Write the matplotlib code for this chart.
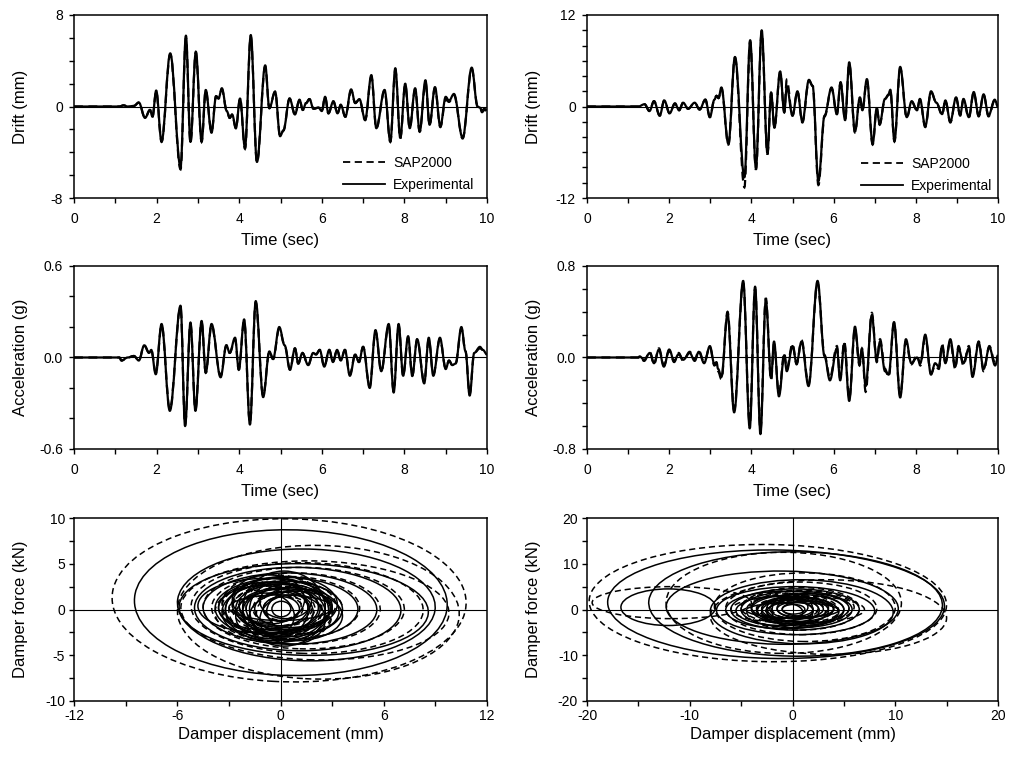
import matplotlib
matplotlib.use("Agg")
import matplotlib.pyplot as plt
from matplotlib.patches import Ellipse, PathPatch
from matplotlib.path import Path
from matplotlib.ticker import MultipleLocator, FormatStrFormatter
from matplotlib.lines import Line2D

plt.rcParams['font.family'] = ['Liberation Sans', 'DejaVu Sans']
plt.rcParams['axes.unicode_minus'] = False

# ---------------- data: drift, left ----------------
drift_l_t = [0, 1.1, 1.2, 1.3, 1.45, 1.57, 1.72, 1.84, 1.9, 1.99, 2.12, 2.33, 2.58, 2.71, 2.82,
             2.95, 3.09, 3.19, 3.33, 3.44, 3.5, 3.58, 3.7, 3.77, 3.83, 3.92, 4.02, 4.14, 4.28,
             4.43, 4.63, 4.73, 4.87, 4.99, 5.07, 5.22, 5.35, 5.46, 5.54, 5.62, 5.7, 5.8, 5.92,
             6.0, 6.08, 6.16, 6.28, 6.38, 6.46, 6.57, 6.71, 6.81, 6.91, 7.05, 7.2, 7.32, 7.52,
             7.66, 7.78, 7.9, 8.02, 8.13, 8.26, 8.37, 8.51, 8.61, 8.74, 8.87, 9.0, 9.08, 9.2,
             9.41, 9.63, 9.77, 9.83, 9.88, 9.93, 10.0]
drift_l_exp = [0, 0, 0.1, 0.0, 0.05, 0.35, -1.0, -0.3, -0.9, 1.4, -3.05, 4.65, -5.3, 6.2, -3.1,
               4.8, -3.05, 1.45, -2.3, 0.9, 0.7, 1.6, -0.4, -1.0, -0.7, -1.9, 0.7, -3.6, 6.25,
               -4.85, 3.6, -0.15, 1.3, -2.6, -2.1, 0.7, -0.7, 0.6, -0.3, 0.3, 0.65, -0.2, -0.1,
               -0.4, 0.85, -0.6, 0.45, -0.6, 0.15, -0.9, 1.5, 0.3, 0.65, -1.15, 2.75, -1.9, 1.45,
               -3.05, 3.35, -2.75, 2.0, -1.9, 1.6, -2.2, 2.3, -1.6, 1.7, -1.75, 0.85, 0.5, 1.1,
               -2.75, 3.4, 0.0, -0.1, -0.4, -0.2, -0.3]
drift_l_sap = [0, 0, 0.1, 0.0, 0.05, 0.35, -1.0, -0.3, -0.9, 1.3, -3.1, 4.55, -5.5, 6.0, -3.2,
               4.7, -3.1, 1.4, -2.2, 0.9, 0.7, 1.5, -0.4, -1.0, -0.7, -1.9, 0.7, -3.7, 6.1,
               -4.9, 3.5, -0.15, 1.3, -2.6, -2.1, 0.7, -0.7, 0.6, -0.3, 0.3, 0.65, -0.2, -0.1,
               -0.4, 0.85, -0.6, 0.45, -0.6, 0.15, -0.9, 1.4, 0.3, 0.6, -1.2, 2.6, -1.9, 1.4,
               -3.1, 3.2, -2.8, 1.9, -1.9, 1.5, -2.2, 2.1, -1.6, 1.6, -1.8, 0.6, 0.4, 1.0,
               -2.8, 3.3, 0.1, -0.1, -0.5, -0.3, -0.4]

# ---------------- data: drift, right ----------------
drift_r_t = [0, 1.25, 1.4, 1.52, 1.63, 1.77, 1.88, 2.01, 2.14, 2.24, 2.34, 2.46, 2.62, 2.74,
             2.88, 2.99, 3.1, 3.15, 3.2, 3.27, 3.44, 3.6, 3.83, 3.97, 4.11, 4.25, 4.39, 4.48,
             4.56, 4.7, 4.8, 4.86, 5.0, 5.12, 5.24, 5.4, 5.49, 5.63, 5.78, 5.95, 6.08, 6.17,
             6.28, 6.38, 6.52, 6.64, 6.7, 6.81, 6.95, 7.05, 7.12, 7.25, 7.34, 7.38, 7.48,
             7.62, 7.78, 7.9, 8.03, 8.1, 8.23, 8.37, 8.5, 8.64, 8.72, 8.84, 8.98, 9.08, 9.16,
             9.29, 9.41, 9.53, 9.65, 9.77, 9.92, 10.0]
drift_r_exp = [0, 0, 0.3, -0.6, 0.7, -1.2, 0.8, -0.9, 0.4, -0.5, 0.5, -0.3, 0.5, -0.4,
               0.9, -1.4, 0.9, 1.4, 1.1, 2.5, -4.9, 6.5, -9.3, 8.7, -8.1, 10.0, -6.1, 1.8,
               -2.8, 4.6, -0.8, 2.6, -1.2, 2.0, -2.0, 3.5, 2.7, -9.8, -1.2, 2.5, -1.0, 3.2,
               -1.8, 5.8, -3.3, 1.2, -0.5, 3.6, -4.9, -0.2, -2.3, 1.0, 1.6, 2.2, -4.5,
               5.2, -1.4, 0.7, -0.5, 1.0, -2.6, 2.0, 0.5, -1.0, 0.8, -2.0, 1.2, -1.1, 1.0,
               -1.4, 1.9, -1.2, 1.6, -1.2, 0.9, 0.0]
drift_r_sap = [0, 0, 0.3, -0.6, 0.7, -1.2, 0.8, -0.9, 0.4, -0.5, 0.5, -0.3, 0.5, -0.4,
               0.9, -1.4, 0.9, 1.4, 1.1, 2.4, -5.0, 6.4, -10.6, 8.5, -8.3, 9.7, -6.3, 1.8,
               -2.7, 4.5, -0.7, 3.5, -1.2, 2.0, -2.1, 3.4, 2.7, -10.3, -1.3, 2.4, -1.0, 3.1,
               -1.8, 5.6, -3.4, 1.1, -0.5, 3.4, -5.0, -0.3, -2.4, 1.0, 1.5, 2.1, -4.6,
               5.0, -1.5, 0.6, -0.5, 0.9, -2.7, 1.9, 0.5, -1.1, 0.8, -2.1, 1.1, -1.2, 0.9,
               -1.5, 1.8, -1.3, 1.5, -1.3, 0.8, 0.0]

# ---------------- data: acceleration, left ----------------
acc_l_t = [0, 1.1, 1.15, 1.3, 1.45, 1.57, 1.7, 1.82, 1.87, 1.98, 2.12, 2.32, 2.58, 2.69, 2.82,
           2.94, 3.09, 3.19, 3.33, 3.55, 3.69, 3.77, 3.9, 3.99, 4.12, 4.26, 4.4, 4.58, 4.73,
           4.82, 4.97, 5.1, 5.23, 5.35, 5.43, 5.53, 5.67, 5.79, 5.86, 5.95, 6.06, 6.18, 6.27,
           6.37, 6.46, 6.56, 6.68, 6.81, 6.9, 7.0, 7.16, 7.3, 7.44, 7.62, 7.74, 7.86, 7.97,
           8.09, 8.19, 8.31, 8.48, 8.59, 8.7, 8.86, 9.0, 9.08, 9.16, 9.24, 9.38, 9.48, 9.58,
           9.69, 9.83, 9.9, 10.0]
acc_l_exp = [0, 0, -0.02, 0.0, 0.01, -0.02, 0.08, 0.03, 0.05, -0.11, 0.22, -0.35, 0.34, -0.45, 0.23,
             -0.35, 0.24, -0.1, 0.22, -0.13, 0.08, 0.03, 0.13, -0.08, 0.25, -0.44, 0.37, -0.26, 0.04,
             -0.01, 0.2, 0.08, -0.08, 0.06, -0.04, 0.03, -0.05, 0.03, 0.02, 0.05, -0.06, 0.05, -0.03,
             0.05, -0.02, 0.05, -0.12, 0.02, -0.03, 0.07, -0.2, 0.18, -0.09, 0.22, -0.23, 0.22, -0.12,
             0.14, -0.12, 0.12, -0.17, 0.13, -0.12, 0.13, -0.076, -0.02, -0.05, -0.04, 0.2, 0.04, -0.25,
             0.03, 0.07, 0.05, 0.02]
acc_l_sap = [0, 0, -0.02, 0.0, 0.01, -0.02, 0.08, 0.03, 0.05, -0.1, 0.21, -0.34, 0.33, -0.44, 0.22,
             -0.34, 0.23, -0.1, 0.21, -0.12, 0.08, 0.03, 0.12, -0.08, 0.24, -0.43, 0.36, -0.25, 0.04,
             -0.01, 0.19, 0.08, -0.08, 0.06, -0.04, 0.03, -0.05, 0.03, 0.02, 0.05, -0.06, 0.05, -0.03,
             0.05, -0.02, 0.05, -0.11, 0.02, -0.03, 0.07, -0.19, 0.17, -0.09, 0.21, -0.22, 0.21, -0.12,
             0.13, -0.12, 0.12, -0.16, 0.12, -0.11, 0.12, -0.07, -0.02, -0.05, -0.04, 0.19, 0.04, -0.24,
             0.03, 0.06, 0.05, 0.02]

# ---------------- data: acceleration, right ----------------
acc_r_t = [0, 1.25, 1.28, 1.39, 1.53, 1.63, 1.75, 1.87, 2.0, 2.12, 2.23, 2.34, 2.5, 2.62, 2.72,
           2.85, 2.99, 3.1, 3.15, 3.19, 3.27, 3.42, 3.58, 3.8, 3.96, 4.09, 4.22, 4.35, 4.48,
           4.55, 4.67, 4.8, 4.86, 5.0, 5.1, 5.22, 5.39, 5.61, 5.78, 5.91, 6.08, 6.16, 6.26,
           6.38, 6.52, 6.63, 6.69, 6.78, 6.93, 7.05, 7.13, 7.25, 7.34, 7.47, 7.62, 7.76, 7.89,
           8.03, 8.11, 8.23, 8.37, 8.47, 8.56, 8.64, 8.72, 8.84, 8.96, 9.04, 9.16, 9.29, 9.38,
           9.53, 9.65, 9.79, 9.93, 10.0]
acc_r_exp = [0, 0, 0.01, -0.02, 0.04, -0.05, 0.07, -0.08, 0.07, -0.03, 0.03, -0.02, 0.04, -0.03, 0.05,
             -0.05, 0.1, -0.06, -0.04, -0.1, -0.17, 0.38, -0.48, 0.67, -0.62, 0.62, -0.67, 0.5, -0.18,
             0.14, -0.34, 0.02, -0.12, 0.1, -0.05, 0.14, -0.25, 0.67, 0.01, -0.2, 0.08, -0.2, 0.12,
             -0.38, 0.27, -0.05, 0.07, -0.25, 0.37, -0.02, 0.14, -0.12, -0.15, 0.31, -0.35, 0.16, -0.05,
             0.0, -0.05, 0.2, -0.15, -0.05, -0.08, 0.1, -0.05, 0.16, -0.08, 0.08, -0.05, 0.08, -0.17,
             0.13, -0.1, 0.09, -0.07, 0.0]
acc_r_sap = [0, 0, 0.01, -0.03, 0.05, -0.06, 0.08, -0.07, 0.06, -0.04, 0.04, -0.03, 0.05, -0.02, 0.06,
             -0.04, 0.09, -0.07, -0.05, -0.12, -0.19, 0.4, -0.46, 0.65, -0.58, 0.6, -0.64, 0.52, -0.2,
             0.12, -0.32, 0.04, -0.1, 0.12, -0.06, 0.15, -0.23, 0.65, 0.02, -0.18, 0.1, -0.18, 0.14,
             -0.36, 0.25, -0.07, 0.08, -0.3, 0.39, -0.04, 0.16, -0.1, -0.17, 0.3, -0.33, 0.14, -0.06,
             0.02, -0.07, 0.18, -0.14, -0.07, -0.1, 0.12, -0.04, 0.14, -0.1, 0.1, -0.07, 0.1, -0.15,
             0.14, -0.12, 0.1, -0.05, 0.02]

# ---------------- data: damper hysteresis cycles (extents of each cycle) ----------------
# left: displacement (mm) / force (kN)
hl_sap_xmin = [-9.8, -6.0, -5.8, -5.2, -4.5, -4.0, -3.4, -2.8, -2.2, -1.6, -1.0, -3.0, -2.4, -3.8,
               -2.0, -2.6, -3.4, -1.4, -2.8]
hl_sap_xmax = [10.8, 10.4, 9.8, 8.3, 7.2, 5.8, 4.6, 3.6, 2.8, 2.0, 1.3, 2.4, 3.2, 3.0,
               2.4, 1.8, 2.6, 3.0, 1.2]
hl_sap_ymin = [-7.9, -7.6, -5.5, -4.8, -4.3, -3.8, -3.2, -2.8, -2.3, -1.8, -1.2, -3.0, -2.2, -3.6,
               -3.0, -1.8, -2.6, -3.4, -1.4]
hl_sap_ymax = [9.9, 7.0, 5.3, 5.1, 4.6, 4.0, 3.6, 3.0, 2.5, 2.0, 1.4, 2.6, 3.2, 3.0,
               3.6, 1.6, 3.8, 2.4, 2.2]
hl_sap_tilt = [-6, -6, -4, -4, -3, -3, -2, 0, 0, 0, 0, 0, 0, 0, 0, 0, 0, 0, 0]
hl_exp_xmin = [-8.5, -6.0, -5.9, -5.0, -4.5, -3.8, -3.2, -2.6, -2.0, -1.5, -1.0, -0.5, -3.4, -2.8,
               -2.2, -3.6, -1.8, -2.8, -1.2, -3.0, -2.2, -4.8, -3.2, -2.4, -1.8, -3.6, -0.8,
               -2.6, -1.2]
hl_exp_xmax = [9.7, 9.0, 8.6, 7.0, 5.6, 4.5, 3.6, 2.9, 2.3, 1.7, 1.1, 0.6, 2.6, 3.3,
               1.9, 2.2, 3.6, 1.4, 2.6, 3.0, 2.6, 3.0, 2.8, 3.0, 1.6, 1.6, 3.4,
               0.8, 1.8]
hl_exp_ymin = [-7.2, -5.6, -5.0, -4.5, -3.8, -3.3, -3.0, -2.6, -2.2, -1.8, -1.3, -0.8, -3.4, -2.4,
               -2.8, -2.6, -3.4, -1.6, -3.8, -1.2, -4.0, -2.6, -3.6, -2.0, -3.0, -2.2, -2.6,
               -3.2, -1.0]
hl_exp_ymax = [8.7, 6.6, 5.0, 4.6, 4.0, 3.5, 3.1, 2.8, 2.3, 1.9, 1.4, 0.9, 2.8, 3.6,
               2.2, 3.0, 2.0, 3.8, 1.6, 1.6, 4.2, 3.4, 3.4, 2.4, 3.0, 2.6, 2.2,
               1.8, 2.8]
hl_exp_tilt = [-6, -5, -4, -3, -3, -2, -1, 0, 0, 0, 0, 0, 0, 0, 0, 0, 0, 0, 0, 0, 0, 0,
               0, 0, 0, 0, 0, 0, 0]

# right
hr_sap_xmin = [-19.8, -19.5, -12.3, -8.0, -7.6, -6.5, -5.0, -4.0, -3.0, -2.0, -2.6, -4.5, -3.5, -6.0,
               -5.0, -2.5]
hr_sap_xmax = [15.0, -4.0, 10.6, 15.0, 10.0, 8.2, 6.5, 5.5, 4.0, 2.5, 3.2, 4.5, 2.5, 7.0,
               6.0, 4.5]
hr_sap_ymin = [-11.4, -2.0, -9.6, -9.8, -7.0, -5.5, -4.5, -3.5, -2.8, -2.0, -3.2, -4.0, -2.0, -3.0,
               -3.2, -2.8]
hr_sap_ymax = [14.2, 5.0, 12.5, 6.5, 8.0, 6.0, 4.8, 4.0, 3.0, 2.2, 2.4, 3.5, 2.5, 3.0,
               4.2, 2.0]
hr_sap_tilt = [-3, 0, -3, -2, -2, -1, 0, 0, 0, 0, 0, 0, 0, 0, 0, 0]
hr_exp_xmin = [-18.0, -16.7, -14.0, -12.3, -8.0, -7.4, -6.0, -5.0, -4.0, -3.0, -2.2, -1.5, -1.0, -3.4,
               -5.5, -2.5, -3.5, -1.5, -4.5, -2.0, -6.5, -3.0, -4.0, -1.0, -2.5]
hr_exp_xmax = [14.8, -7.5, 14.6, 10.3, 9.8, 8.0, 6.5, 5.8, 5.0, 4.0, 3.0, 2.0, 1.2, 2.6,
               3.5, 5.5, 2.0, 3.5, 4.5, 2.0, 5.0, 4.5, 1.5, 4.0, 1.0]
hr_exp_ymin = [-10.7, -3.5, -10.2, -7.6, -7.5, -5.5, -4.5, -4.0, -3.2, -2.6, -2.0, -1.5, -1.0, -3.0,
               -3.5, -3.0, -2.5, -2.0, -1.8, -4.0, -4.2, -3.6, -2.0, -1.6, -2.6]
hr_exp_ymax = [13.0, 4.5, 12.6, 8.4, 6.5, 5.0, 4.5, 4.0, 3.3, 2.8, 2.2, 1.6, 1.1, 2.6,
               3.0, 3.5, 2.0, 2.6, 1.5, 3.5, 4.0, 2.6, 3.0, 1.8, 1.4]
hr_exp_tilt = [-3, 0, -3, -2, -2, -1, 0, 0, 0, 0, 0, 0, 0, 0, 0, 0, 0, 0, 0, 0,
               0, 0, 0, 0, 0]

# ---------------- figure ----------------
fig = plt.figure(figsize=(10.09, 7.59), dpi=100)
W, H = 1009.0, 759.0
cols = [(74, 413), (587, 411)]
rows = [(15, 198), (266, 449), (518, 701)]

def make_ax(col, row):
    x0, w = cols[col]
    t, b = rows[row]
    return fig.add_axes([x0 / W, 1 - b / H, w / W, (b - t) / H])

DASH = (0, (4, 2.5))
LW = 1.6
TICK_FS = 10
LAB_FS = 12

def style(ax, xmaj, xmin_, ymaj, ymin_, yfmt=None, xpad=6.5, ypad=4.7):
    ax.xaxis.set_major_locator(MultipleLocator(xmaj))
    ax.xaxis.set_minor_locator(MultipleLocator(xmin_))
    ax.yaxis.set_major_locator(MultipleLocator(ymaj))
    ax.yaxis.set_minor_locator(MultipleLocator(ymin_))
    if yfmt:
        ax.yaxis.set_major_formatter(FormatStrFormatter(yfmt))
    ax.tick_params(which='both', direction='out', length=3.3, width=1.0,
                   top=False, right=False, labelsize=TICK_FS)
    ax.tick_params(axis='x', which='major', pad=xpad)
    ax.tick_params(axis='y', which='major', pad=ypad)
    for s in ax.spines.values():
        s.set_linewidth(1.1)

def wave_path(t, v):
    # smooth rendering between successive read-off extrema (horizontal tangent at each)
    verts = [(t[0], v[0])]
    codes = [Path.MOVETO]
    for i in range(len(t) - 1):
        dt = t[i + 1] - t[i]
        verts += [(t[i] + 0.36 * dt, v[i]), (t[i + 1] - 0.36 * dt, v[i + 1]), (t[i + 1], v[i + 1])]
        codes += [Path.CURVE4] * 3
    return Path(verts, codes)

def time_panel(col, row, t, exp, sap, ylim, ymaj, ymin_, ylabel, yfmt=None, legend=None):
    ax = make_ax(col, row)
    ax.axhline(0, color='black', lw=0.8, zorder=1)
    ax.add_patch(PathPatch(wave_path(t, sap), fill=False, edgecolor='black', lw=LW,
                           linestyle=DASH, zorder=2))
    ax.add_patch(PathPatch(wave_path(t, exp), fill=False, edgecolor='black', lw=LW,
                           zorder=3, joinstyle='round'))
    ax.set_xlim(0, 10)
    ax.set_ylim(-ylim, ylim)
    style(ax, 2, 1, ymaj, ymin_, yfmt)
    ax.set_xlabel('Time (sec)', fontsize=LAB_FS)
    ax.set_ylabel(ylabel, fontsize=LAB_FS)
    ax.xaxis.set_label_coords(0.5, -0.19)
    ax.yaxis.set_label_coords(-0.112, 0.5)
    if legend:
        handles = [Line2D([], [], color='black', lw=1.3, linestyle=DASH),
                   Line2D([], [], color='black', lw=1.3)]
        ax.legend(handles, ['SAP2000', 'Experimental'], loc='upper left',
                  bbox_to_anchor=legend, frameon=False, borderpad=0, borderaxespad=0,
                  handlelength=3.0, handletextpad=0.6, labelspacing=0.55, fontsize=TICK_FS)
    return ax

def loop_panel(col, row, sap, exp, xlim, xmaj, xmin_, ylim, ymaj, ymin_):
    ax = make_ax(col, row)
    ax.axhline(0, color='black', lw=0.8, zorder=1)
    ax.axvline(0, color='black', lw=0.8, zorder=1)
    for (x0s, x1s, y0s, y1s, tilts), ls in ((sap, DASH), (exp, '-')):
        for x0, x1, y0, y1, tl in zip(x0s, x1s, y0s, y1s, tilts):
            e = Ellipse(((x0 + x1) / 2, (y0 + y1) / 2), x1 - x0, y1 - y0, angle=tl,
                        fill=False, edgecolor='black', lw=1.1, linestyle=ls, zorder=2)
            ax.add_patch(e)
    ax.set_xlim(-xlim, xlim)
    ax.set_ylim(-ylim, ylim)
    style(ax, xmaj, xmin_, ymaj, ymin_, xpad=2.2, ypad=3.2)
    ax.set_xlabel('Damper displacement (mm)', fontsize=LAB_FS)
    ax.set_ylabel('Damper force (kN)', fontsize=LAB_FS)
    ax.xaxis.set_label_coords(0.5, -0.14)
    ax.yaxis.set_label_coords(-0.112, 0.5)
    return ax

time_panel(0, 0, drift_l_t, drift_l_exp, drift_l_sap, 8, 8, 2, 'Drift (mm)',
           legend=(0.651, 0.2295))
time_panel(1, 0, drift_r_t, drift_r_exp, drift_r_sap, 12, 12, 2, 'Drift (mm)',
           legend=(0.667, 0.224))
time_panel(0, 1, acc_l_t, acc_l_exp, acc_l_sap, 0.6, 0.6, 0.2, 'Acceleration (g)', yfmt='%.1f')
time_panel(1, 1, acc_r_t, acc_r_exp, acc_r_sap, 0.8, 0.8, 0.2, 'Acceleration (g)', yfmt='%.1f')

loop_panel(0, 2, (hl_sap_xmin, hl_sap_xmax, hl_sap_ymin, hl_sap_ymax, hl_sap_tilt),
           (hl_exp_xmin, hl_exp_xmax, hl_exp_ymin, hl_exp_ymax, hl_exp_tilt),
           12, 6, 3, 10, 5, 2.5)
loop_panel(1, 2, (hr_sap_xmin, hr_sap_xmax, hr_sap_ymin, hr_sap_ymax, hr_sap_tilt),
           (hr_exp_xmin, hr_exp_xmax, hr_exp_ymin, hr_exp_ymax, hr_exp_tilt),
           20, 10, 5, 20, 10, 5)

fig.savefig('out.png', dpi=100)
